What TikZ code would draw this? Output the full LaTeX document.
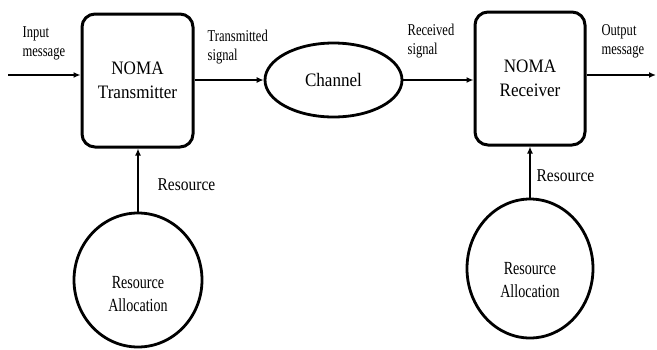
\documentclass[tikz,border=0pt]{standalone}
\usepackage{fontspec}
\setmainfont{Liberation Serif}
\newfontfamily\condfont[FakeStretch=0.76]{Liberation Serif}
\newfontfamily\midfont[FakeStretch=0.86]{Liberation Serif}
\newfontfamily\boxfont[FakeStretch=0.9]{Liberation Serif}
\usetikzlibrary{arrows.meta,shapes.geometric,calc}
\begin{document}
\begin{tikzpicture}[x=1pt,y=-1pt,
  blockbox/.style={draw,line width=3pt,rounded corners=13pt,inner sep=0pt,align=center,font=\boxfont\fontsize{19}{24}\selectfont},
  roundnode/.style={draw,line width=2.8pt,ellipse,inner sep=0pt,align=center,font=\condfont\fontsize{18.5}{23}\selectfont},
  circtext/.style={inner sep=0pt,align=center,font=\condfont\fontsize{18.5}{23}\selectfont},
  lab/.style={align=left,anchor=north west,inner sep=0pt,font=\condfont\fontsize{16.5}{21}\selectfont},
  reslab/.style={anchor=west,inner sep=0pt,font=\midfont\fontsize{18}{22}\selectfont},
  conn/.style={line width=1.3pt,-{Latex[length=7pt,width=6pt]}},
  line width=1.3pt]
\useasboundingbox (0,0) rectangle (657,349);
\node[blockbox,minimum width=111pt,minimum height=133pt] (tx) at (137.5,80.5) {NOMA\\Transmitter};
\node[roundnode,minimum width=137pt,minimum height=74pt,font=\boxfont\fontsize{19}{24}\selectfont] (ch) at (333.5,80) {Channel};
\node[blockbox,minimum width=110pt,minimum height=133pt] (rx) at (530,78.5) {NOMA\\Receiver};
\node[roundnode,minimum width=128pt,minimum height=134pt] (ra1) at (138,280) {};
\node[roundnode,minimum width=126pt,minimum height=139pt] (ra2) at (530,268.5) {};
\node[circtext] (ra1t) at ($(ra1.center)+(0,14)$) {Resource\\Allocation};
\node[circtext] (ra2t) at ($(ra2.center)+(0,12)$) {Resource\\Allocation};
\coordinate (in) at (8,75);
\coordinate (out) at (656,75);
\draw[conn] (in) -- (tx.west |- in);
\draw[conn] (tx.east |- ch.west) -- (ch.west);
\draw[conn] (ch.east) -- (rx.west |- ch.east);
\draw[conn] (rx.east |- out) -- (out);
\draw[conn] (ra1.north) -- (ra1.north |- tx.south);
\draw[conn] (ra2.north) -- (ra2.north |- rx.south);
\node[lab] (l1) at (22,26) {Input\\[-2pt]message};
\node[lab] (l2) at (207,29) {Transmitted\\[-2pt]signal};
\node[lab] (l3) at (407,23) {Received\\[-2pt]signal};
\node[lab] (l4) at (601,24) {Output\\[-2pt]message};
\node[reslab] (r1) at (157,185) {Resource};
\node[reslab] (r2) at (536,176) {Resource};
\end{tikzpicture}
\end{document}
